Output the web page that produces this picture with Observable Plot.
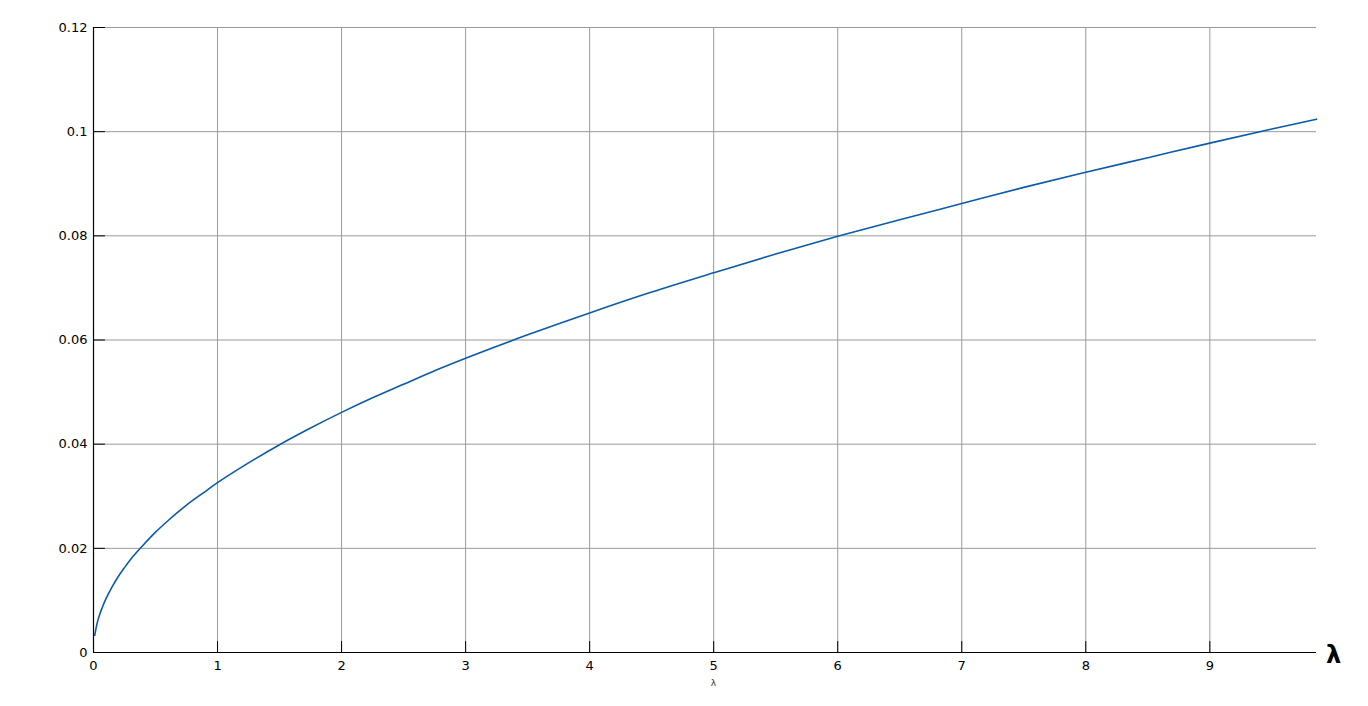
<!DOCTYPE html>
<html><head><meta charset="utf-8">
<script src="https://cdn.jsdelivr.net/npm/d3@7"></script>
<script src="https://cdn.jsdelivr.net/npm/@observablehq/plot@0.6"></script>
<style>body{margin:0;background:#fff} #chart{width:1368px;height:706px}</style>
</head><body><div id="chart"></div>
<script>
// curve values
const lambda = [0.01, 0.02, 0.03, 0.05, 0.07, 0.1, 0.15, 0.2, 0.25, 0.3, 0.4, 0.5, 0.6, 0.75, 0.9, 1, 1.25, 1.5, 1.75, 2, 2.25, 2.5, 2.75, 3, 3.5, 4, 4.5, 5, 5.5, 6, 6.5, 7, 7.5, 8, 8.5, 9, 9.5, 9.86];
const value  = [0.0033, 0.0046, 0.0057, 0.0073, 0.0086, 0.0103, 0.0126, 0.0146, 0.0163, 0.0179, 0.0206, 0.0231, 0.0253, 0.0283, 0.0309, 0.0326, 0.0364, 0.0399, 0.0431, 0.0461, 0.0489, 0.0515, 0.0541, 0.0565, 0.0610, 0.0652, 0.0692, 0.0729, 0.0765, 0.0799, 0.0831, 0.0862, 0.0893, 0.0922, 0.0950, 0.0978, 0.1005, 0.1024];
const xTicks = [0, 1, 2, 3, 4, 5, 6, 7, 8, 9];
const xTickLabels = ["0", "1", "2", "3", "4", "5", "6", "7", "8", "9"];
const yTicks = [0, 0.02, 0.04, 0.06, 0.08, 0.1, 0.12];
const yTickLabels = ["0", "0.02", "0.04", "0.06", "0.08", "0.1", "0.12"];
const xLabel = "λ";

const data = lambda.map((x, i) => ({x, y: value[i]}));
const tickShape = {draw(context, l) { context.moveTo(0, 0); context.lineTo(0, -l); }};

const plot = Plot.plot({
  width: 1368, height: 706,
  marginLeft: 93, marginRight: 52, marginTop: 27, marginBottom: 54,
  style: {fontFamily: "DejaVu Sans", fontSize: "13px", color: "#000", background: "#fff"},
  x: {domain: [0, 9.86]},
  y: {domain: [0, 0.12]},
  marks: [
    Plot.gridX(xTicks.slice(1), {stroke: "#9a9a9a", strokeOpacity: 1}),
    Plot.gridY(yTicks.slice(1), {stroke: "#9a9a9a", strokeOpacity: 1}),
    Plot.vector(xTicks, {x: (d) => d, y: () => 0, length: 11, rotate: 0, anchor: "start", shape: tickShape, stroke: "#000", strokeWidth: 1}),
    Plot.vector(yTicks, {x: () => 0, y: (d) => d, length: 11, rotate: 90, anchor: "start", shape: tickShape, stroke: "#000", strokeWidth: 1}),
    Plot.axisX(xTicks, {tickSize: 0, tickPadding: 8, label: null, fontSize: 13,
      tickFormat: (d) => xTickLabels[xTicks.indexOf(d)]}),
    Plot.axisY(yTicks, {tickSize: 0, tickPadding: 6, label: null, fontSize: 13,
      tickFormat: (d) => yTickLabels[yTicks.indexOf(d)]}),
    Plot.ruleY([0], {stroke: "#000", strokeWidth: 1.2}),
    Plot.ruleX([0], {stroke: "#000", strokeWidth: 1.2}),
    Plot.line(data, {x: "x", y: "y", stroke: "#0b5ba8", strokeWidth: 1.6, curve: "monotone-x"}),
    Plot.text([xLabel], {frameAnchor: "bottom", textAnchor: "middle", lineAnchor: "middle", dx: 8.5, dy: 31, fontSize: 9, fill: "#333"}),
    Plot.text([xLabel], {frameAnchor: "bottom-right", textAnchor: "middle", lineAnchor: "middle", dx: 17, dy: 3, fontSize: 24, fontWeight: "bold", fill: "#000"})
  ]
});
document.getElementById("chart").append(plot);
</script>
</body></html>
